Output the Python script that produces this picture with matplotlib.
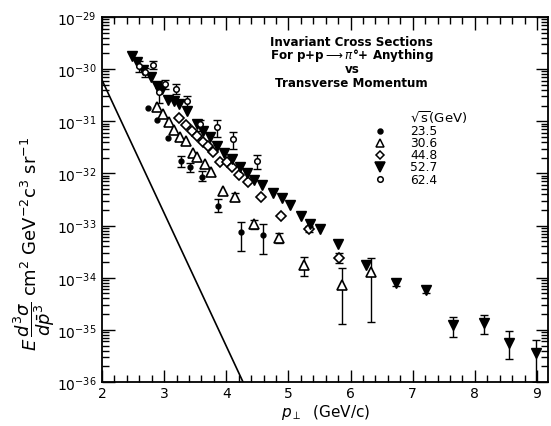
import numpy as np
import matplotlib
matplotlib.use("Agg")
import matplotlib.pyplot as plt
from matplotlib.ticker import FixedLocator, LogLocator, NullFormatter, FixedFormatter

plt.rcParams['font.family'] = ['DejaVu Sans']
plt.rcParams['mathtext.fontset'] = 'dejavusans'

# ---- data ----
# sqrt(s) = 23.5 GeV (filled circles)
pt_235 = [2.74, 2.89, 3.06, 3.27, 3.42, 3.61, 3.87, 4.24, 4.59]
y_235 = [1.78e-31, 1.05e-31, 4.7e-32, 1.7e-32, 1.3e-32, 8.7e-33, 2.4e-33, 7.4e-34, 6.5e-34]
lo_235 = [1.78e-31, 1.05e-31, 4.7e-32, 1.35e-32, 1.05e-32, 7.0e-33, 1.8e-33, 3.2e-34, 2.8e-34]
hi_235 = [1.78e-31, 1.05e-31, 4.7e-32, 2.15e-32, 1.6e-32, 1.1e-32, 3.2e-33, 1.15e-33, 1.05e-33]

# sqrt(s) = 30.6 GeV (open triangles)
pt_306 = [2.89, 2.98, 3.08, 3.16, 3.26, 3.35, 3.47, 3.53, 3.66, 3.76, 3.95, 4.14,
          4.45, 4.85, 5.25, 5.86, 6.33]
y_306 = [1.86e-31, 1.35e-31, 9.6e-32, 6.8e-32, 4.9e-32, 4.2e-32, 2.5e-32, 2.1e-32,
         1.5e-32, 1.05e-32, 4.7e-33, 3.6e-33, 1.05e-33, 5.9e-34, 1.78e-34, 7.4e-35, 1.3e-34]
lo_306 = [1.86e-31, 1.35e-31, 9.6e-32, 6.8e-32, 4.9e-32, 4.2e-32, 2.5e-32, 2.1e-32,
          1.5e-32, 1.05e-32, 4.7e-33, 3.0e-33, 8.5e-34, 4.6e-34, 1.1e-34, 1.3e-35, 1.4e-35]
hi_306 = [1.86e-31, 1.35e-31, 9.6e-32, 6.8e-32, 4.9e-32, 4.2e-32, 2.5e-32, 2.1e-32,
          1.5e-32, 1.05e-32, 4.7e-33, 4.3e-33, 1.25e-33, 7.2e-34, 2.5e-34, 1.55e-34, 2.4e-34]

# sqrt(s) = 44.8 GeV (open diamonds)
pt_448 = [3.24, 3.35, 3.45, 3.53, 3.63, 3.71, 3.79, 3.90, 4.01, 4.09, 4.21, 4.35,
          4.56, 4.88, 5.33, 5.82]
y_448 = [1.15e-31, 8.3e-32, 6.4e-32, 5.1e-32, 4.0e-32, 3.3e-32, 2.6e-32, 1.62e-32,
         1.62e-32, 1.35e-32, 9.5e-33, 6.7e-33, 3.5e-33, 1.5e-33, 8.7e-34, 2.4e-34]
lo_448 = [1.15e-31, 8.3e-32, 6.4e-32, 5.1e-32, 4.0e-32, 3.3e-32, 2.6e-32, 1.62e-32,
          1.62e-32, 1.35e-32, 9.5e-33, 6.7e-33, 3.5e-33, 1.5e-33, 7.6e-34, 1.9e-34]
hi_448 = [1.15e-31, 8.3e-32, 6.4e-32, 5.1e-32, 4.0e-32, 3.3e-32, 2.6e-32, 1.62e-32,
          1.62e-32, 1.35e-32, 9.5e-33, 6.7e-33, 3.5e-33, 1.5e-33, 1.0e-33, 3.0e-34]

# sqrt(s) = 52.7 GeV (filled triangles)
pt_527 = [2.48, 2.56, 2.66, 2.79, 2.89, 2.97, 3.06, 3.16, 3.24, 3.37, 3.53, 3.63,
          3.74, 3.85, 3.96, 4.09, 4.22, 4.33, 4.45, 4.58, 4.75, 4.90, 5.03, 5.20,
          5.35, 5.51, 5.80, 6.25, 6.73, 7.22, 7.65, 8.14, 8.55, 8.99]
y_527 = [1.78e-30, 1.35e-30, 9.5e-31, 7.0e-31, 4.7e-31, 4.1e-31, 2.6e-31, 2.4e-31,
         2.1e-31, 1.6e-31, 8.7e-32, 6.4e-32, 4.9e-32, 3.4e-32, 2.5e-32, 1.85e-32,
         1.35e-32, 1.0e-32, 7.6e-33, 5.9e-33, 4.3e-33, 3.4e-33, 2.5e-33, 1.5e-33,
         1.05e-33, 8.7e-34, 4.5e-34, 1.78e-34, 7.9e-35, 5.9e-35, 1.26e-35, 1.35e-35,
         5.6e-36, 3.6e-36]
lo_527 = y_527[:28] + [6.8e-35, 5.0e-35, 7.2e-36, 8.5e-36, 2.8e-36, 1.0e-36]
hi_527 = y_527[:28] + [9.0e-35, 7.0e-35, 1.75e-35, 1.95e-35, 9.5e-36, 6.5e-36]

# sqrt(s) = 62.4 GeV (open circles)
pt_624 = [2.60, 2.69, 2.82, 2.92, 3.01, 3.19, 3.37, 3.58, 3.85, 4.11, 4.50]
y_624 = [1.15e-30, 8.7e-31, 1.2e-30, 3.6e-31, 5.1e-31, 4.2e-31, 2.4e-31, 8.7e-32,
         7.6e-32, 4.5e-32, 1.7e-32]
lo_624 = [8.7e-31, 7.0e-31, 1.0e-30, 2.2e-31, 4.2e-31, 3.4e-31, 1.8e-31, 6.6e-32,
          5.0e-32, 3.0e-32, 1.2e-32]
hi_624 = [1.45e-30, 1.05e-30, 1.45e-30, 4.3e-31, 6.2e-31, 5.1e-31, 3.0e-31, 1.05e-31,
          1.05e-31, 6.2e-32, 2.3e-32]

# straight reference line
line_pt = [2.0, 4.27]
line_y = [6.2e-31, 1.0e-36]

legend_labels = ['23.5', '30.6', '44.8', '52.7', '62.4']
xtick_vals = [2, 3, 4, 5, 6, 7, 8, 9]
ytick_exps = [-29, -30, -31, -32, -33, -34, -35, -36]

# ---- figure ----
fig = plt.figure(figsize=(5.51, 4.27), dpi=100)
ax = fig.add_axes([0.185, 0.103, 0.81, 0.855])
ax.set_yscale('log')
ax.set_xlim(2.0, 9.18)
ax.set_ylim(1e-36, 1e-29)

def plot_series(x, y, lo, hi, marker, ms, face, mew=1.0):
    y = np.array(y); lo = np.array(lo); hi = np.array(hi)
    err = np.vstack([y - lo, hi - y])
    has = (err.sum(axis=0) > 0)
    if has.any():
        ax.errorbar(np.array(x)[has], y[has], yerr=err[:, has], fmt='none',
                    ecolor='black', elinewidth=1.0, capsize=3, capthick=1.0, zorder=2)
    ax.plot(x, y, linestyle='none', marker=marker, ms=ms, mfc=face, mec='black',
            mew=mew, zorder=3)

ax.plot(line_pt, line_y, color='black', lw=1.2, zorder=1)
plot_series(pt_235, y_235, lo_235, hi_235, 'o', 3.5, 'black')
plot_series(pt_306, y_306, lo_306, hi_306, '^', 7, 'white', 1.2)
plot_series(pt_448, y_448, lo_448, hi_448, 'D', 5, 'white', 1.2)
plot_series(pt_527, y_527, lo_527, hi_527, 'v', 7.5, 'black')
plot_series(pt_624, y_624, lo_624, hi_624, 'o', 4, 'white', 1.1)

# ticks
ax.xaxis.set_major_locator(FixedLocator(xtick_vals))
ax.xaxis.set_minor_locator(FixedLocator(np.arange(2.0, 9.2, 0.2)))
ax.yaxis.set_major_locator(FixedLocator([10.0 ** e for e in ytick_exps]))
ax.yaxis.set_major_formatter(FixedFormatter(['$10^{%d}$' % e for e in ytick_exps]))
ax.yaxis.set_minor_locator(LogLocator(base=10, subs=np.arange(2, 10), numticks=20))
ax.yaxis.set_minor_formatter(NullFormatter())
ax.tick_params(which='both', direction='in', top=True, right=True, labelsize=10,
               width=1.0, colors='black')
ax.tick_params(which='major', length=9)
ax.tick_params(which='minor', length=5)
ax.tick_params(axis='x', pad=3)
ax.tick_params(axis='y', pad=4)
for s in ax.spines.values():
    s.set_linewidth(1.3)

ax.set_xlabel(r'$p_{\perp}$  (GeV/c)', fontsize=11, labelpad=1)
ax.set_ylabel(r'$E\,\dfrac{d^3\sigma}{d\bar{p}^3}$ cm$^2$ GeV$^{-2}$c$^3$ sr$^{-1}$',
              fontsize=13)
ax.yaxis.set_label_coords(-0.10, 0.38)

# title block
title_lines = ['Invariant Cross Sections',
               r'For p+p$\longrightarrow\pi$°+ Anything',
               'vs',
               'Transverse Momentum']
for i, t in enumerate(title_lines):
    ax.text(0.56, 0.934 - i * 0.038, t, transform=ax.transAxes, ha='center',
            va='center', fontsize=8.6, fontweight='bold')

# legend
ax.text(0.69, 0.728, r'$\sqrt{\rm s}$(GeV)', transform=ax.transAxes, ha='left',
        va='center', fontsize=9.5)
markers = [('o', 3.5, 'black'), ('^', 6, 'white'), ('D', 4.5, 'white'),
           ('v', 7, 'black'), ('o', 4, 'white')]
for i, (lab, (m, ms, fc)) in enumerate(zip(legend_labels, markers)):
    yy = 0.688 - i * 0.033
    ax.plot([0.623], [yy], transform=ax.transAxes, marker=m, ms=ms, mfc=fc,
            mec='black', mew=1.1, linestyle='none', clip_on=False)
    ax.text(0.69, yy, lab, transform=ax.transAxes, ha='left', va='center',
            fontsize=8.8)

fig.savefig('out.png', dpi=100)
